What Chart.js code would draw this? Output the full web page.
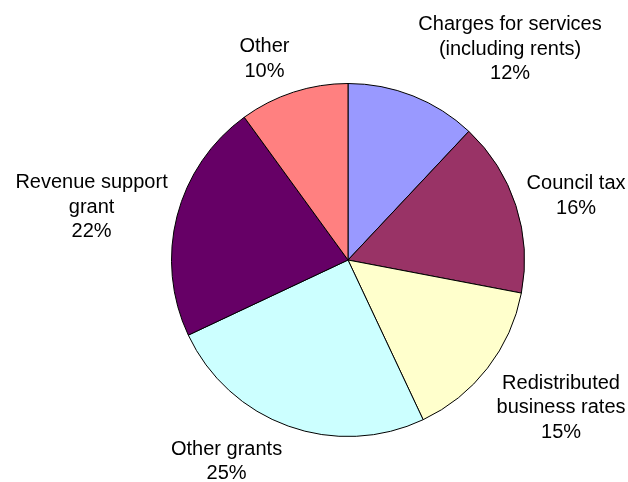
<!DOCTYPE html>
<html>
<head>
<meta charset="utf-8">
<script src="https://cdn.jsdelivr.net/npm/chart.js@4/dist/chart.umd.min.js"></script>
<style>
html,body{margin:0;padding:0;background:#fff;}
#wrap{width:628px;height:482px;}
</style>
</head>
<body>
<div id="wrap"><canvas id="c" width="628" height="482"></canvas></div>
<script>
const categories = ["Charges for services (including rents)", "Council tax", "Redistributed business rates", "Other grants", "Revenue support grant", "Other"];
const labelLines = [["Charges for services", "(including rents)"], ["Council tax"], ["Redistributed", "business rates"], ["Other grants"], ["Revenue support", "grant"], ["Other"]];
const values = [12, 16, 15, 25, 22, 10];
const colors = ["#9999FF", "#993366", "#FFFFCC", "#CCFFFF", "#660066", "#FF8080"];

// label anchor (middle baseline) offsets relative to pie centre, in units of radius
const labelOffsets = [[0.918, -1.164], [1.292, -0.331], [1.207, 0.867], [-0.688, 1.172], [-1.453, -0.269], [-0.473, -1.108]];

const labelPlugin = {
  id: 'outLabels',
  afterDatasetsDraw(chart) {
    const ctx = chart.ctx;
    const meta = chart.getDatasetMeta(0);
    ctx.save();
    ctx.font = '20px "Liberation Sans", Arial, sans-serif';
    ctx.fillStyle = '#000';
    ctx.textAlign = 'center';
    ctx.textBaseline = 'alphabetic';
    const lh = 24.5;
    meta.data.forEach((arc, i) => {
      const r = arc.outerRadius;
      const x = arc.x + labelOffsets[i][0] * r;
      const y = arc.y + labelOffsets[i][1] * r;
      const lines = labelLines[i].concat([values[i] + '%']);
      const y0 = y - (lines.length - 1) * lh / 2;
      lines.forEach((t, k) => ctx.fillText(t, x, y0 + k * lh));
    });
    ctx.restore();
  }
};

new Chart(document.getElementById('c'), {
  type: 'pie',
  data: {
    labels: categories,
    datasets: [{
      data: values,
      backgroundColor: colors,
      borderColor: '#000',
      borderWidth: 1
    }]
  },
  options: {
    responsive: false,
    devicePixelRatio: 1,
    animation: false,
    layout: { padding: { left: 171, right: 103, top: 83, bottom: 45 } },
    plugins: {
      legend: { display: false },
      tooltip: { enabled: false }
    }
  },
  plugins: [labelPlugin]
});
</script>
</body>
</html>
